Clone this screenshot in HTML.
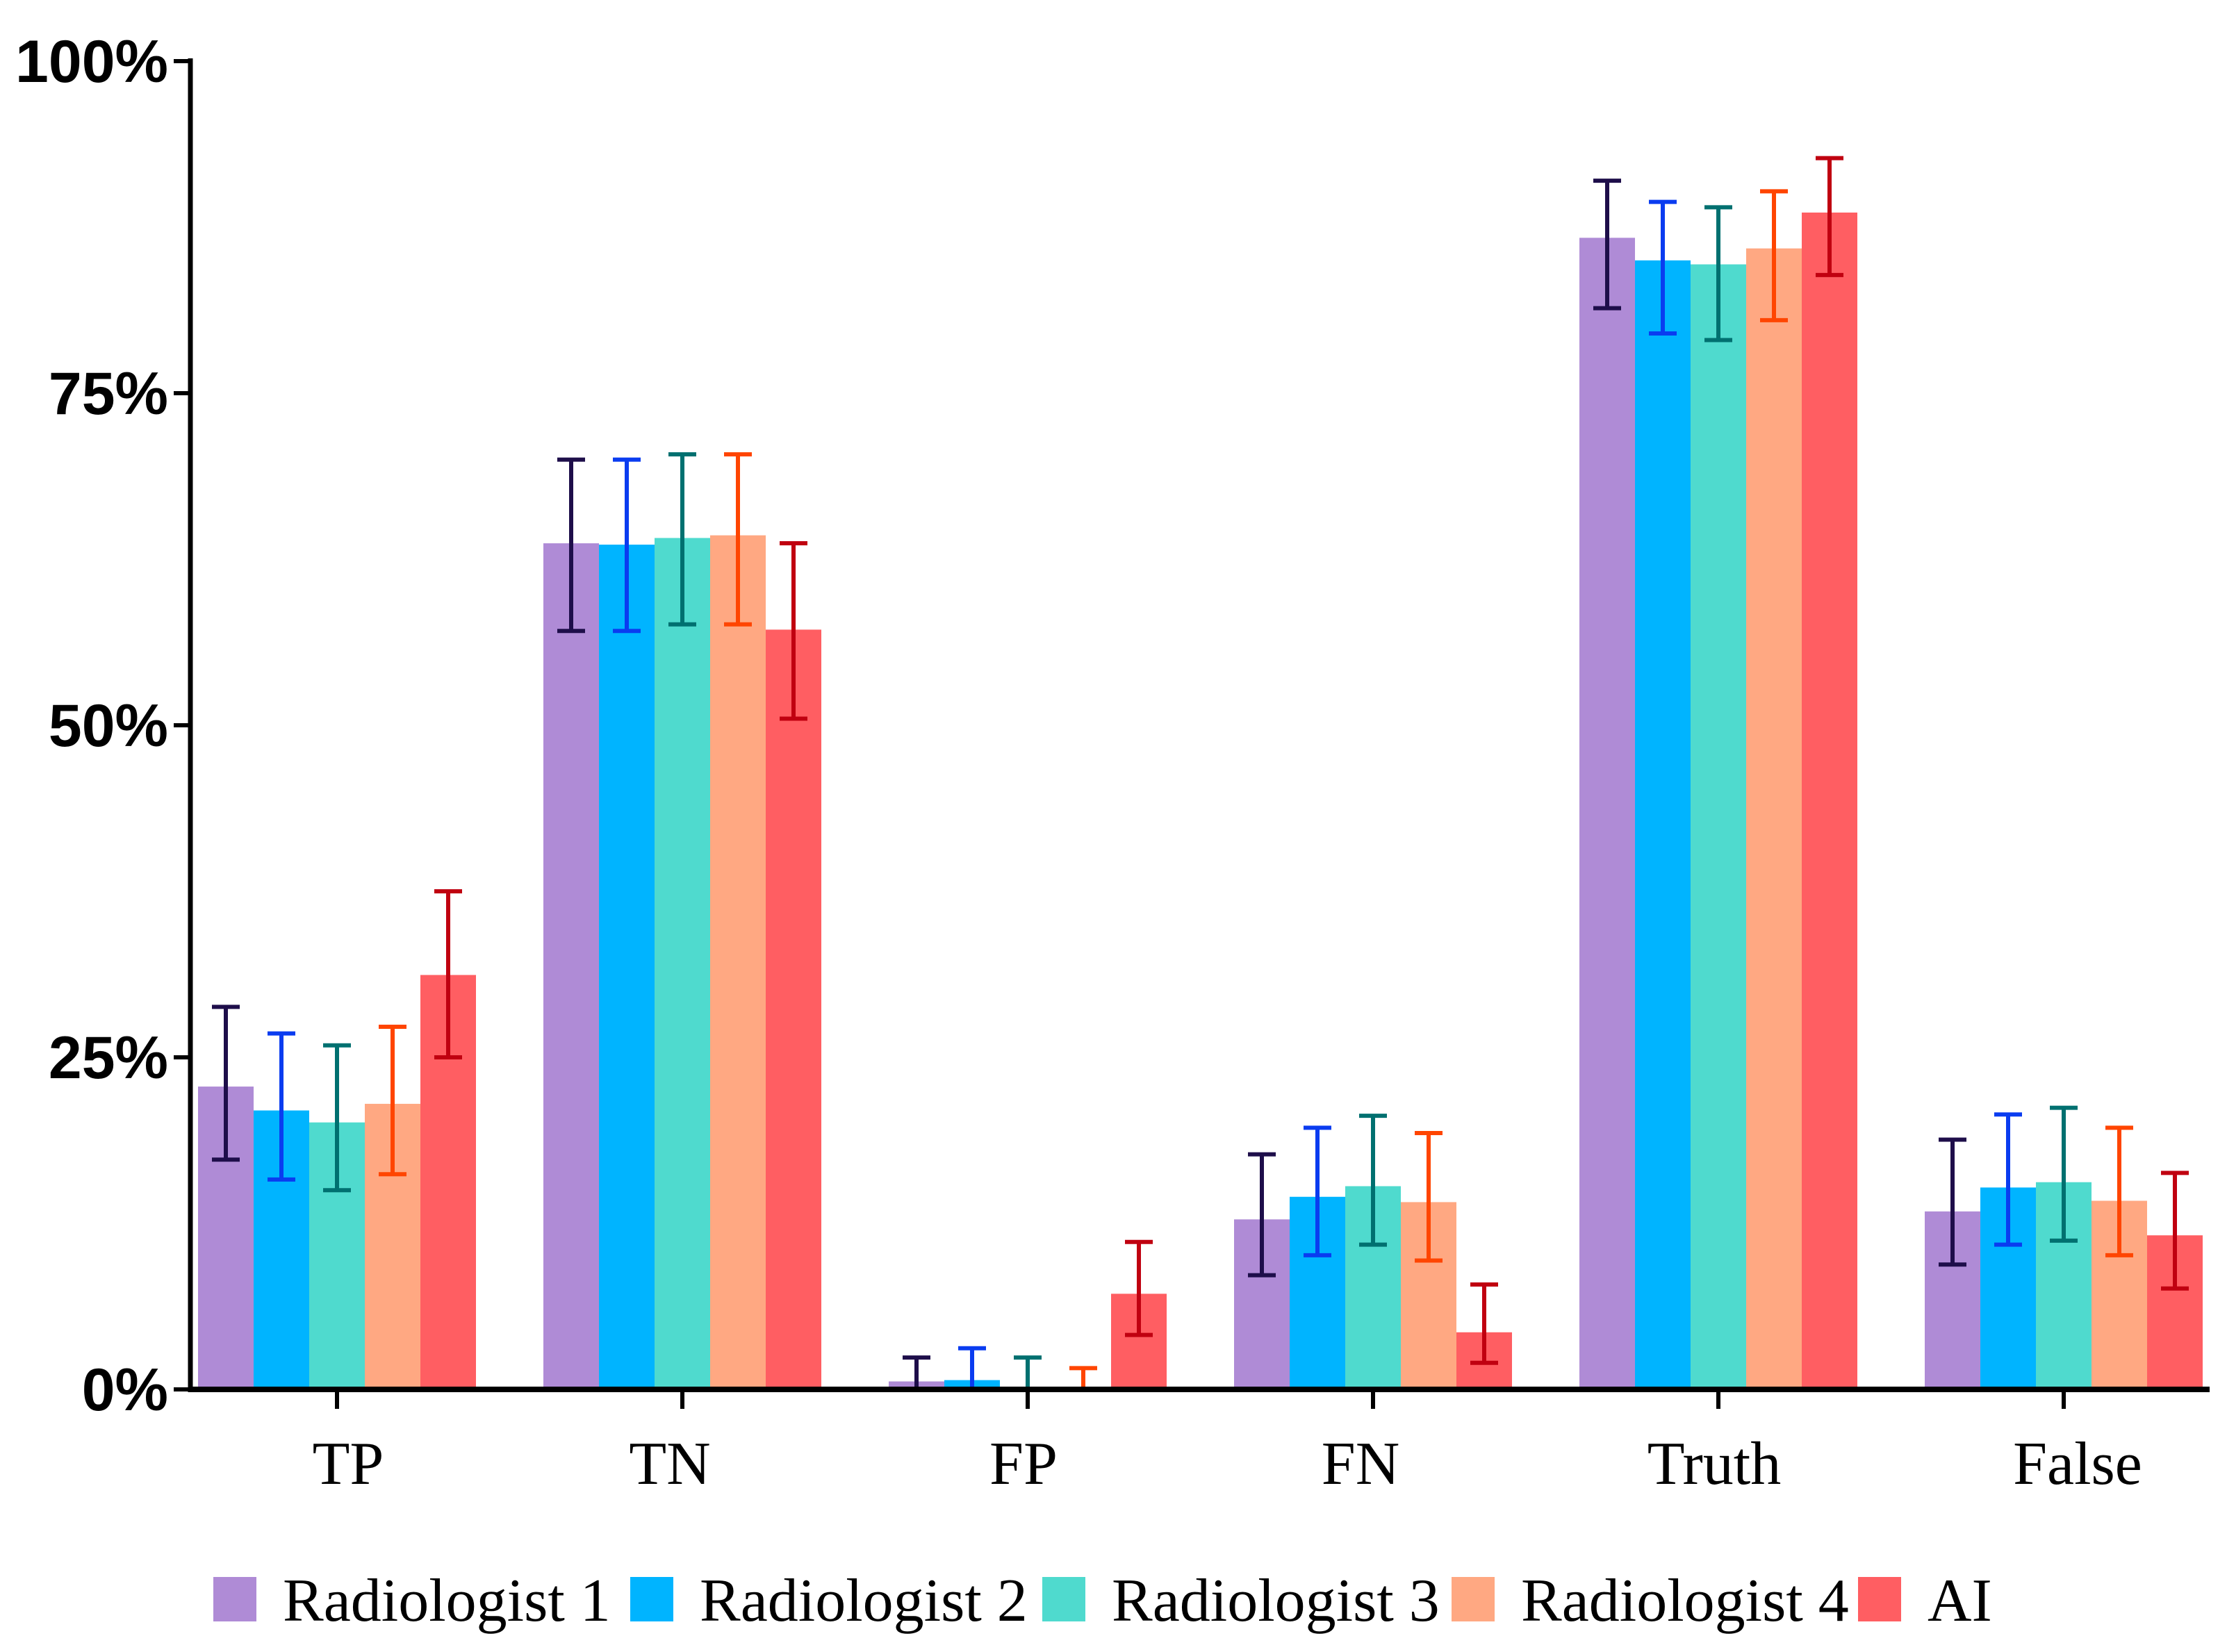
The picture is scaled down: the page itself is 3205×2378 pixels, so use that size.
<!DOCTYPE html>
<html><head><meta charset="utf-8"><style>
html,body{margin:0;padding:0;background:#fff;}
svg{display:block;}
</style></head><body>
<svg id="chart" width="3205" height="2378" viewBox="0 0 3205 2378" xmlns="http://www.w3.org/2000/svg"></svg>
<script>
const categories = ["TP","TN","FP","FN","Truth","False"];
const seriesNames = ["Radiologist 1","Radiologist 2","Radiologist 3","Radiologist 4","AI"];
const r1Values = [22.8, 63.7, 0.6, 12.8, 86.7, 13.4];
const r2Values = [21.0, 63.6, 0.7, 14.5, 85.0, 15.2];
const r3Values = [20.1, 64.1, 0.1, 15.3, 84.7, 15.6];
const r4Values = [21.5, 64.3, 0.2, 14.1, 85.9, 14.2];
const aiValues = [31.2, 57.2, 7.2, 4.3, 88.6, 11.6];
const r1Low = [17.3, 57.1, 0.0, 8.6, 81.4, 9.4];
const r1High = [28.8, 70.0, 2.4, 17.7, 91.0, 18.8];
const r2Low = [15.8, 57.1, 0.0, 10.1, 79.5, 10.9];
const r2High = [26.8, 70.0, 3.1, 19.7, 89.4, 20.7];
const r3Low = [15.0, 57.6, 0.0, 10.9, 79.0, 11.2];
const r3High = [25.9, 70.4, 2.4, 20.6, 89.0, 21.2];
const r4Low = [16.2, 57.6, 0.0, 9.7, 80.5, 10.1];
const r4High = [27.3, 70.4, 1.6, 19.3, 90.2, 19.7];
const aiLow = [25.0, 50.5, 4.1, 2.0, 83.9, 7.6];
const aiHigh = [37.5, 63.7, 11.1, 7.9, 92.7, 16.3];
const yTicks = [0, 25, 50, 75, 100];
const yTickLabels = ["0%","25%","50%","75%","100%"];

const values = [r1Values, r2Values, r3Values, r4Values, aiValues];
const lows = [r1Low, r2Low, r3Low, r4Low, aiLow];
const highs = [r1High, r2High, r3High, r4High, aiHigh];
const fills = ["#AF8BD6","#00B4FF","#4FDACE","#FFA882","#FF5E62"];
const errColors = ["#1E0E4A","#0A3CF0","#007070","#FF4500","#C00010"];
const labelShift = [16, -18, -6, -18, -6, 20];

const svg = document.getElementById('chart');
const NS = "http://www.w3.org/2000/svg";
const y0 = 2000, y100 = 88;
function yScale(v){ return y0 - (v/100)*(y0-y100); }
const groupStart = 285, groupStep = 497, barW = 80;
function xCenter(ci){ return groupStart + 200 + ci*groupStep; }
function mk(tag, attrs){ const e=document.createElementNS(NS,tag); for(const k in attrs) e.setAttribute(k, attrs[k]); svg.appendChild(e); return e; }

for(let s=0;s<5;s++){
  for(let c=0;c<categories.length;c++){
    const x = groupStart + c*groupStep + s*barW;
    const yt = yScale(values[s][c]);
    const r = mk('rect',{x:x,y:yt,width:barW,height:y0-yt,fill:fills[s]});
    
    
  }
}
for(let s=0;s<5;s++){
  for(let c=0;c<categories.length;c++){
    const cx = groupStart + c*groupStep + s*barW + barW/2;
    const yl = yScale(lows[s][c]), yh = yScale(highs[s][c]);
    const g = document.createElementNS(NS,'g');
    
    
    g.setAttribute('stroke', errColors[s]);
    g.setAttribute('stroke-width', '6');
    svg.appendChild(g);
    const add=(a)=>{const l=document.createElementNS(NS,'line'); for(const k in a) l.setAttribute(k,a[k]); g.appendChild(l);};
    add({x1:cx,x2:cx,y1:yl,y2:yh});
    add({x1:cx-20,x2:cx+20,y1:yh,y2:yh});
    add({x1:cx-20,x2:cx+20,y1:yl,y2:yl});
  }
}
const ya = mk('line',{x1:274,x2:274,y1:84,y2:2004,stroke:'#000','stroke-width':7});
 
const xa = mk('line',{x1:271,x2:3180,y1:2000,y2:2000,stroke:'#000','stroke-width':8});
 
for(let i=0;i<yTicks.length;i++){
  const y = yScale(yTicks[i]);
  const t = mk('line',{x1:250,x2:274,y1:y,y2:y,stroke:'#000','stroke-width':6});
   
  const tx = mk('text',{x:242,y:y+30,'text-anchor':'end','font-family':'Liberation Sans, sans-serif','font-weight':'bold','font-size':86,fill:'#000'});
  tx.textContent = yTickLabels[i];
   
}
for(let c=0;c<categories.length;c++){
  const x = xCenter(c);
  const t = mk('line',{x1:x,x2:x,y1:2000,y2:2028,stroke:'#000','stroke-width':6});
   
  const tx = mk('text',{x:x+labelShift[c],y:2136,'text-anchor':'middle','font-family':'Liberation Serif, serif','font-size':88,fill:'#000'});
  tx.textContent = categories[c];
   
}
const legX = [307, 907, 1500, 2089, 2674];
for(let s=0;s<5;s++){
  const r = mk('rect',{x:legX[s],y:2270,width:62,height:64,fill:fills[s]});
   
  const tx = mk('text',{x:legX[s]+100,y:2333,'font-family':'Liberation Serif, serif','font-size':88,fill:'#000'});
  tx.textContent = seriesNames[s];
   
}
</script>
</body></html>
